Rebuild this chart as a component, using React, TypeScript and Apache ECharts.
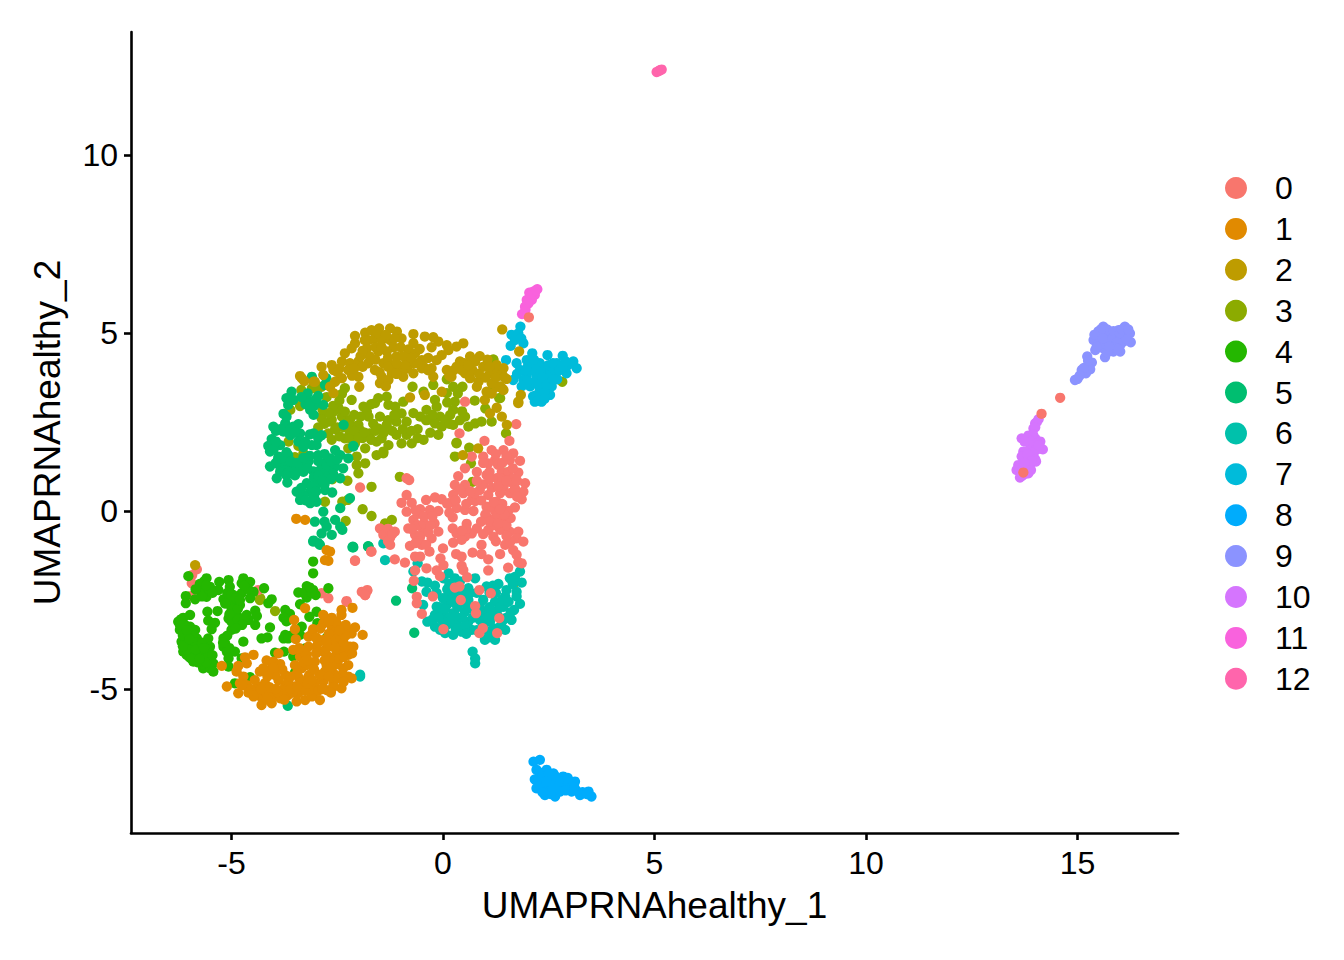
import React, { useEffect, useRef } from "react";
import * as echarts from "echarts";

const clusterNames = ["0","1","2","3","4","5","6","7","8","9","10","11","12"];
const clusterColors = ["#F8766D","#E18A00","#BE9C00","#8CAB00","#24B700","#00BE70","#00C1AB","#00BBDA","#00ACFC","#8B93FF","#D575FE","#F962DD","#FF65AC"];
const xTicks = [-5,0,5,10,15];
const yTicks = [-5,0,5,10];

const c0 = [[-5.82,-1.64],[-5.93,-1.8],[-5.94,-2.03],[-5.96,-2.39],[-6.08,-3.81],[-4.37,-2.22],[-2.87,-2.31],[-2.71,-2.45],[-2.28,-2.53],[-1.92,-2.27],[-1.79,-2.22],[-1.84,-2.36],[-2.08,-1.4],[-1.7,-1.14],
[14.59,3.18],[14.15,2.73],[13.72,1.08],[2.03,5.44],[0.52,3.07],[1.73,2.44],
[0.39,2.18],[0.98,1.97],[1.57,1.97],[1.15,1.71],[1.43,1.71],[1.66,1.62],[0.68,1.53],[0.95,1.53],[1.23,1.43],[1.07,1.34],[1.58,1.43],[1.82,1.41],[0.52,1.2],[0.8,1.1],[1.39,1.1],[1.78,1.08],[0.36,0.98],[1.03,1.01],[1.27,0.92],[1.58,0.82],[1.94,0.78],[0.28,0.73],[0.52,0.73],[1.7,0.64],[1.43,0.68],[1.9,0.54],[0.87,0.59],[0.24,0.45],[0.48,0.5],[1.07,0.45],[1.35,0.5],[1.58,0.5],[0.68,0.31],[0.76,0.28],[1.86,0.33],[-0.86,0.92],[-0.8,0.87],[-1.96,0.66],[-0.86,0.45],[-0.98,0.23],[-0.74,0.23],[-0.4,0.31],[-0.19,0.38],[-0.03,0.33],[0.13,0.22],[0.32,0.08],[-0.86,-0.02],[-0.54,0.05],[-0.31,0.03],[-0.11,0],[-0.7,-0.25],[-0.6,-0.08],[0.23,-0.18],[0.72,0],[0.52,0.03],[1.03,0.12],[1.27,0.26],[1.03,-0.16],[1.23,0],[1.54,0],[1.46,-0.25],[1.23,-0.2],[-0.2,-0.35],[0.56,-0.36],[-1.49,-0.49],[-1.14,-0.58],[-1.41,-0.67],[-0.82,-0.49],[-0.47,-0.53],[-0.11,-0.58],[-0.66,-0.67],[-0.54,-0.72],[-0.27,-0.77],[0.23,-0.49],[0.32,-0.63],[0.8,-0.49],[0.68,-0.63],[1.07,-0.53],[1.35,-0.53],[1.58,-0.58],[1.78,-0.58],[0.52,-0.72],[0.24,-0.89],[0.44,-0.81],[1.19,-0.72],[1.47,-0.95],[1.74,-0.77],[1.9,-0.86],[-1.25,-0.95],[-0.78,-0.98],[-0.5,-0.95],[-0.32,-1.14],[0,-1.05],[0.91,-0.95],[0.7,-1.17],[0.91,-1.21],[0.31,-1.21],[0.44,-1.28],[1.35,-1.21],[1.66,-1.1],[1.74,-1.23],[-1.69,-1.14],[-2.08,-1.39],[-1.14,-1.36],[-0.9,-1.45],[-0.66,-1.28],[-0.54,-1.28],[-0.06,-1.33],[1.07,-1.36],[-0.39,-1.61],[-0.15,-1.67],[0.01,-1.52],[0.44,-1.54],[-0.66,-1.67],[0.48,-1.66],[1.07,-1.67],[1.54,-1.59],[1.78,-1.44],[1.86,-1.47],[0.57,-1.86],[-0.07,-1.83],[-0.69,-1.96],[0.28,-2.15],[0.39,-2.12],[0.86,-2.22],[1.13,-2.31],[-0.24,-2.4],[-0.62,-2.41],[-0.62,-2.59],[0.42,-2.5],[0.76,-2.67],[0.78,-2.87],[-0.5,-2.89],[1.33,-3.01],[0.94,-3.29],[0.01,-3.32],[0.86,-3.43],[1.28,-3.43],[-1.88,-2.27],[-1.79,-2.24],[-1.84,-2.36],[-2.28,-2.55],
[0.1,0.2],[0.9,0.3],[1.1,0.1],[1.3,-0.1],[1.4,0.2],[1.5,-0.4],[1.2,-0.4],[1,-0.1],[1.6,-0.2],[1.7,0.6],[1.4,0.9],[1.55,1.1],[1.65,0.9],[1.75,0.4],[1.3,1.3],[1.1,1.1],[0.95,1.35],[-0.6,-0.4],[-0.45,-0.35],[-0.55,-0.85],[-0.35,-0.6],[-1.25,-0.75],[-1.3,-0.5],
[0.3,0.3],[0.55,0.2],[0.75,0.5],[0.95,0.75],[1.15,0.65],[1.3,0.7],[1.5,0.85],[1.75,0.85],[1.65,1.2],[1.4,1.35],[1.25,1.6],[1.5,1.55],[1.1,0.9],[0.8,0.85],[0.65,0.55],[0.4,0.6],[1.2,0.25],[1.1,-0.3],[0.9,-0.3],[0.55,-0.5],[0.45,-0.55],[0.95,-0.65],[1.25,-0.85],[1.6,-0.85],[1.5,-0.7],[1.3,-0.35],[1.45,-0.1],[1.7,0.1],[1.35,0.05],[-0.45,-0.15],[-0.65,0.02],[-0.75,-0.5],[-0.3,-0.4],[-0.25,-0.15],[-0.4,-0.95],[-0.65,-0.9],[-1.3,-0.85],[-1.2,-0.65],[0.15,-0.05]];

const c1 = [[-2.75,-1.1],[-2.67,-1.14],[-2.79,-1.38],[-2.71,-1.4],[-3.47,-0.22],[-3.26,-0.25],[-3.26,-2.73],[-2.4,-2.78],[-2.14,-2.72],[-2.4,-2.92],[-2.83,-2.92],[-2.63,-3],[-2.51,-3.16],[-2.83,-3.16],[-3.5,-3.32],[-3.48,-3.6],[-3.52,-3.06],[-3.07,-3.32],[-3.18,-3.53],[-2.99,-3.58],[-2.83,-3.62],[-2.63,-3.25],[-2.51,-3.34],[-2.4,-3.53],[-2.24,-3.34],[-2.08,-3.27],[-2.16,-3.44],[-1.9,-3.48],[-2.59,-3.53],[-2.43,-3.72],[-2.2,-3.81],[-2.12,-3.81],[-2.32,-3.9],[-2.24,-4.04],[-2.51,-4],[-2.71,-4.09],[-2.83,-3.95],[-2.99,-3.81],[-3.18,-3.81],[-3.38,-4.09],[-3.54,-3.9],[-3.22,-4.04],[-3.89,-4],[-4.48,-4.04],[-4.68,-4.11],[-4.64,-4.28],[-4.84,-4.35],[-5.23,-4.35],[-4.88,-4.51],[-4.72,-4.65],[-4.8,-4.84],[-5.11,-4.93],[-4.84,-5.12],[-4.64,-4.89],[-4.37,-4.93],[-4.21,-4.84],[-4.48,-5.07],[-4.33,-5.2],[-4.17,-5.12],[-4.01,-5.2],[-4.29,-5.45],[-4.05,-5.4],[-3.85,-5.26],[-3.66,-5.17],[-3.46,-5.35],[-3.26,-5.31],[-2.91,-5.31],[-3.03,-5.07],[-3.3,-4.84],[-3.5,-4.93],[-3.73,-4.89],[-3.89,-4.75],[-3.97,-4.61],[-4.09,-4.46],[-4.33,-4.51],[-4.17,-4.2],[-4.01,-4.23],[-4.25,-4.42],[-3.5,-4.33],[-3.34,-4.42],[-3.22,-4.33],[-3.03,-4.23],[-2.75,-4.33],[-2.59,-4.2],[-2.36,-4.42],[-2.24,-4.33],[-2.24,-4.65],[-2.16,-4.7],[-2.4,-4.98],[-2.59,-4.84],[-2.75,-5.03],[-2.83,-4.79],[-3.03,-4.84],[-3.18,-4.65],[-2.91,-4.61],[-2.59,-4.56],[-2.4,-4.61],[-3.73,-4.61],[-3.66,-4.79],[-3.81,-5.03],[-4.48,-5.21],[-3.42,-5.12],[-3.1,-5.21],[-2.79,-4.51],
[-2.6,-3.75],[-2.7,-3.45],[-2.75,-3.85],[-2.45,-3.55],[-2.35,-3.7],[-3,-4],[-3.15,-4.6],[-3.1,-5],[-3.9,-5.1],[-4.1,-4.95],[-3.55,-5.1],[-4.3,-5],[-2.5,-4.3],[-2.9,-4.6],[-2.6,-4.95],[-3.3,-3.95],[-3.4,-4.7],[-2.9,-3.3],[-3.1,-3.45],
[-2.95,-3.7],[-2.65,-3.65],[-2.3,-3.5],[-2.55,-3.85],[-2.45,-4.15],[-2.65,-4.4],[-2.8,-4.2],[-3.05,-4.45],[-3.3,-4.25],[-3.45,-4.55],[-3.6,-4.65],[-3.8,-4.45],[-3.85,-4.3],[-4.15,-4.65],[-4.45,-4.75],[-4.55,-5],[-4.15,-5.3],[-3.95,-5],[-3.75,-5.3],[-3.6,-5],[-3.25,-5.05],[-3.2,-4.85],[-2.95,-5.05],[-2.85,-5],[-2.5,-4.7],[-2.35,-4.8],[-2.7,-4.65],[-3,-3.55],[-2.55,-3.1],[-2.7,-3.1],[-2.3,-3.2],[-2.35,-4.1],[-2.15,-4],[-3.4,-3.85],[-3.2,-4.2],[-4,-4.4],[-4.75,-4.9],[-4.6,-5.1],[-3.45,-4.95],[-3.1,-4.75],[-2.65,-5.1],[-2.45,-3.35],[-2.75,-3.7]];

const c2 = [[-3.34,3.73],[-3.06,3.63],[-2.87,4.05],[-2.63,4.1],[-2.59,3.96],[-2.32,4.43],[-2.39,4.2],[-2.2,4.15],[-2,4.2],[-2.24,3.96],[-2.39,3.73],[-2.55,3.63],[-2.08,4.71],[-2.16,4.57],[-2.08,4.92],[-1.84,5.01],[-1.69,5.08],[-1.51,5.13],[-1.25,5.13],[-1.09,5.04],[-0.98,4.85],[-0.7,4.97],[-0.43,4.9],[-0.23,4.88],[-0.7,4.71],[-0.82,4.54],[-0.11,4.76],[-0.27,4.6],[0.09,4.66],[0.48,4.71],[0.32,4.62],[0.13,4.52],[-0.03,4.38],[-0.15,4.24],[-1.76,4.8],[-1.61,4.85],[-1.45,4.8],[-1.25,4.8],[-1.8,4.57],[-1.53,4.48],[-1.17,4.6],[-1.33,4.48],[-1.73,4.34],[-1.77,4.15],[-1.61,3.96],[-1.41,4.15],[-1.1,4.34],[-0.86,4.29],[-0.66,4.43],[-0.5,4.24],[-0.46,4.05],[-0.7,4.15],[-1.02,4.01],[-1.17,4.1],[-1.21,3.87],[-1.45,3.77],[-1.49,3.59],[-1.29,3.68],[-2,3.77],[-1.98,3.49],[-0.94,3.77],[-0.7,3.87],[-0.5,4.01],[-0.27,4.01],[-0.23,3.77],[0.09,3.96],[0.2,3.77],[0.4,4.2],[0.64,4.34],[0.87,4.35],[0.52,3.87],[0.64,3.73],[0.76,4.2],[0.95,4.05],[1.11,3.87],[1.27,4.1],[1.39,3.87],[1.4,5.1],[1.27,3.49],[1.39,3.45],[1.03,3.35],[0.99,3.12],[1.11,2.74],[1.39,2.65],[1.51,2.42],[-0.03,3.35],[-0.78,3.19],[-0.43,3.26],[0.84,3.63],[-2.67,3.49],[-2.59,3.31],[0.32,4.05],[0.8,3.49],[1.15,3.59],[1.78,3.03],
[-3.38,3.79],[-3.28,3.65],[-3.03,3.63],[-2.83,3.82],[1.8,4.48],[1.5,3.71],[1.84,3.26],[1.78,3.07],[1.23,4.01],[1.43,4.01],[1.35,3.5],[1.43,3.4],[1.27,2.9],[0.47,1.57],[0.83,1.76],[-5.86,-1.52],
[-1.95,4.35],[-1.6,4.6],[-1.3,4.3],[-1,4.6],[-0.85,4],[-0.35,4.3],[0.25,3.95],[0.7,3.95],[1,3.75],[1.05,4.25],[1.3,3.8],[-1.9,4.05],
[-1.45,4.6],[-1.15,4.85],[-0.95,4.35],[-0.6,4.15],[-0.35,3.95],[-1.6,4.25],[-1.3,4.05],[-1.1,3.85],[-1.5,3.9],[-1.35,3.5],[-2.15,3.8],[-2.1,4],[-2.45,4],[-1.55,5],[-1.35,4.95],[-1.85,4.8],[-0.9,4.1],[-0.75,4.3],[-0.55,4.55],[0.15,3.8],[0.5,4.15],[0.45,3.95],[0.6,4.1],[0.85,3.85],[1.1,4.05],[1.25,3.75],[1.45,3.75],[1.15,3.3],[-1.1,4.15],[-1.9,4.5],[-2.5,3.9]];

const c3 = [[-3.03,3.45],[-2.87,3.49],[-2.32,3.45],[-2.16,3.12],[-2.39,3.29],[-1.53,3.17],[-1.33,3.21],[-1.61,3.03],[-1.88,2.93],[-2.47,2.89],[-2.59,2.79],[-2.87,2.65],[-2.67,2.51],[-2.39,2.65],[-2.2,2.56],[-2,2.42],[-1.8,2.79],[-1.76,2.65],[-1.49,2.65],[-1.29,2.98],[-1.13,2.93],[-0.94,3.07],[-0.98,2.74],[-1.1,2.51],[-0.86,2.51],[-1.33,2.42],[-1.53,2.32],[-1.73,2.18],[-1.96,2.27],[-2.2,2.18],[-2.32,2.04],[-2.08,1.9],[-1.84,1.76],[-1.57,1.95],[-1.45,2.04],[-1.29,1.85],[-1.41,1.62],[-1.1,2.14],[-0.86,2.14],[-0.98,1.9],[-0.74,1.9],[-0.46,2],[-0.72,3.49],[-0.46,3.35],[-0.23,3.54],[0.09,3.7],[0.24,3.49],[0.46,3.49],[-0.19,3.12],[-0.39,2.84],[-0.54,2.65],[-0.35,2.56],[-0.07,2.65],[-0.15,2.93],[0.09,3.31],[0.28,3.07],[0.24,2.84],[0.17,2.7],[0.52,2.65],[0.76,2.46],[0.91,2.51],[1.15,2.51],[1,2.88],[0.6,2.37],[-0.19,2.46],[-0.03,2.37],[0.24,2.42],[-0.11,2.14],[0.32,1.92],[0.62,1.78],[1.15,3.38],[1.33,3.17],[1.19,4.26],[1.49,2.18],[0.28,1.53],[-2.71,2.18],[-2.63,2],
[-3.61,2.84],[-3.38,2.95],[-3.35,3.4],[-3.1,3.45],[-2.95,3.49],[-2.75,3.2],[-2.47,2.88],[-2.63,2.56],[-2.87,2.6],[-2.32,2.79],[-3.65,1.95],[-3.42,1.83],[-3.3,1.62],[-3.62,1.43],[-3.5,1.51],[-2.62,0.89],[-2.26,0.85],[-1.69,0.68],[-2.79,0.26],[-2.38,0.26],[-2.25,0.31],[-2.3,-0.28],[-1.9,0.05],[-1.69,-0.14],[-2.04,1.29],[-2,1.06],[-1.84,1.34],[-1.57,1.57],[-1.41,1.67],[-2.04,1.53],[-2.24,1.76],[-2.2,2.04],
[-1.02,0.96],[-1.37,-0.35],[-1.21,-0.25],[0.32,1.9],[0.66,1.34],[0.7,0.82],[1.7,-2.01],[1.49,1.08],[2.82,3.63],[1.35,3.17],[1.15,3.4],[1.19,4.24],[-4.33,-2.5],[-4.32,-2.45],[-3.97,-2.81],
[-2.5,2.35],[-2.1,2.7],[-1.65,2.45],[-1.2,2.25],[-0.6,2.3],[-0.3,2.2],[0.45,2.8],[0.75,3.1],[-2.45,2.1],[-1.9,2.05],
[-2.8,2.45],[-2.55,2.3],[-2.35,2.35],[-2.2,2.4],[-2.1,2.25],[-2,2.05],[-1.85,2.2],[-1.7,2],[-1.6,2.25],[-1.4,2.2],[-1.3,2.55],[-1.15,2.7],[-0.95,2.3],[-0.75,2.25],[-0.6,2.05],[-0.7,2.75],[-0.4,2.55],[-0.25,2.7],[0.05,2.55],[0.15,2.45],[0.4,2.55],[0.35,3.3],[0.1,3.05],[-2.6,2.95],[-2.45,3.1],[-2.7,2.75],[-2.85,2.85],[-2.95,2.35],[-1.7,3],[-1.95,2.65]];

const c4 = [[-6.02,-1.83],[-5.59,-1.89],[-5.67,-2.08],[-5.78,-2.22],[-5.51,-2.13],[-5.59,-2.41],[-5.86,-2.48],[-6.08,-2.39],[-6.08,-2.59],[-5.29,-1.99],[-5.07,-1.94],[-5.04,-2.13],[-5.31,-2.22],[-4.72,-1.89],[-4.76,-2.03],[-4.56,-1.99],[-4.23,-2.17],[-4.48,-2.27],[-4.56,-2.45],[-4.76,-2.31],[-4.96,-2.36],[-5.19,-2.48],[-4.96,-2.55],[-4.8,-2.64],[-5,-2.73],[-5.07,-3.02],[-4.88,-2.92],[-5,-3.11],[-4.64,-2.92],[-4.44,-2.8],[-4.6,-3.06],[-4.44,-3.2],[-5,-3.34],[-4.05,-2.48],[-4.13,-2.59],[-5.33,-2.81],[-5.57,-2.83],[-5.55,-3.08],[-5.39,-3.14],[-5.47,-3.32],[-5.98,-2.92],[-6.14,-3],[-6.26,-3.11],[-6.22,-3.34],[-5.98,-3.25],[-5.86,-3.34],[-6.02,-3.48],[-5.82,-3.58],[-5.55,-3.58],[-6.18,-3.67],[-5.9,-3.76],[-6.14,-3.95],[-5.51,-3.81],[-5.55,-3.9],[-5.82,-4],[-6.06,-4.04],[-5.9,-4.23],[-5.63,-4.11],[-5.67,-4.42],[-5.43,-4.28],[-5.51,-4.42],[-5.19,-3.58],[-5.15,-3.72],[-5.19,-3.81],[-4.92,-3.95],[-5.11,-3.95],[-5.07,-4.14],[-5.07,-4.37],[-4.76,-4.14],[-4.72,-3.67],[-4.09,-3.27],[-4.29,-3.58],[-4.15,-3.55],[-3.73,-2.78],[-3.62,-2.89],[-3.77,-3],[-3.66,-3.06],[-3.73,-3.48],[-3.77,-3.58],[-3.66,-3.58],[-3.54,-4.09],[-3.97,-3.98],[-3.76,-3.95],[-3.42,-2.29],[-3.22,-2.11],[-3.07,-2.22],[-3.01,-2.36],[-3.22,-2.43],[-3.38,-2.62],[-3.07,-1.42],[-3.07,-1.75],[-2.71,-2.17],[-3.26,-3.86],[-3.34,-3.25],[-3.38,-3.48],[-3.16,-2.97],[-2.99,-2.83],[-2.97,-3.15],[-2.75,-3.56],[-4.56,-4.67],[-4.92,-4.84],[-3.5,-4.54],[-5.43,-4.51],
[-6.22,-3.2],[-6.1,-3.2],[-6.05,-3.7],[-5.95,-3.6],[-5.75,-3.9],[-5.7,-4.3],[-5.8,-4.25],[-6,-4.1],[-5.65,-1.98],[-5.75,-2.05],[-5.65,-2.3],[-5.1,-2.3],[-5.05,-2.5],[-5,-2.35],[-4.9,-2.45],[-4.85,-2.75],[-4.95,-3.15],[-4.85,-3.05],[-4.7,-3],[-6.15,-3.5],[-6.2,-3.05],[-5.9,-3.45],[-5.85,-3.7],[-6,-3.9],
[-5.6,-2.1],[-5.45,-2.3],[-5.7,-2.4],[-5.85,-2.2],[-4.6,-2.2],[-4.8,-2.5],[-4.7,-2.1],[-4.4,-2.95],[-4.75,-3.2],[-4.9,-3.3],[-6.05,-3.35],[-6.15,-3.8],[-6,-3.6],[-5.85,-3.9],[-5.7,-3.7],[-5.65,-3.85],[-5.95,-4.15],[-5.6,-4.25],[-5.45,-4.05],[-5.75,-4.15],[-5.1,-3.5],[-5.05,-3.85],[-5.2,-3.7],[-3.7,-3.1],[-3.6,-3.5],[-3.3,-2.3],[-3.1,-2.3],[-3.15,-2.15],[-5.15,-2.6],[-5.05,-2.9]];

const c5 = [[-3.1,3.77],[-2.76,3.73],[-2.79,3.54],[-2.95,3.23],[-3.58,3.35],[-3.7,3.17],[-3.54,3.12],[-3.22,3.17],[-3.66,2.98],[-3.77,2.73],[-3.03,3.03],[-3.14,2.84],[-2.83,2.98],[-3.06,2.7],[-4.01,2.37],[-3.73,2.46],[-3.77,2.23],[-3.54,2.37],[-3.42,2.44],[-3.61,2.13],[-3.38,2.18],[-2.35,2.42],[-3.06,2.18],[-2.87,2.13],[-4.05,2.02],[-3.85,1.85],[-4.13,1.83],[-4.09,1.67],[-3.42,1.95],[-3.26,1.95],[-2.99,1.85],[-3.89,1.53],[-3.66,1.57],[-3.73,1.34],[-4.09,1.25],[-3.85,1.25],[-3.93,0.92],[-3.68,0.8],[-3.46,1.11],[-3.34,1.25],[-3.18,1.39],[-2.95,1.57],[-2.55,1.71],[-2.12,1.81],[-2.67,1.48],[-2.43,1.57],[-2.24,1.48],[-2.83,1.34],[-2.55,1.25],[-2.36,1.2],[-3.06,1.11],[-2.83,0.97],[-2.43,0.92],[-3.22,0.78],[-2.95,0.78],[-3.46,0.54],[-3.14,0.54],[-2.79,0.59],[-2.62,0.52],[-3.38,0.31],[-3.14,0.22],[-2.99,0.26],[-2.43,0.08],[-2.2,0.36],[-2.83,-0.02],[-3.03,-0.3],[-2.8,-0.3],[-2.55,-0.25],[-2.75,-0.44],[-2.43,-0.44],[-2.38,-0.53],[-2.87,-0.63],[-2.63,-0.67],[-3.06,-0.83],[-2.95,-0.9],[-2.13,-1],[-1.76,-1],
[-3.9,1.45],[-3.8,1.5],[-3.75,1.15],[-3.55,1.2],[-3.6,1.4],[-3.3,1.1],[-3.45,1.35],[-2.7,1.15],[-2.6,1.05],[-2.9,1.15],[-3.05,0.95],[-3.1,0.7],[-3.3,0.45],[-3.05,0.4],[-3.25,3],[-3.05,2.95],[-3.15,3.05],[-2.8,0.75],[-3.6,2.3],[-3.65,2.2],[-2.8,1.6],[-3.7,1.65],[-3.2,1.2],
[-3.67,-5.47],[-2.12,-1.02],[-1.77,-1],[-3.07,-0.86],[-2.91,-0.95],[-2.14,-1.02],[-1.77,-0.99],[-1.11,-2.52],[-0.68,-3.42],[-0.73,-2.17],[-2.12,1.83],
[-3.95,1.35],[-3.85,1.1],[-3.65,1.1],[-3.5,1],[-3.7,1],[-3.3,1.5],[-3.15,1.55],[-2.95,1.4],[-2.75,1.3],[-2.65,1.4],[-2.5,1.45],[-2.95,1],[-2.85,0.85],[-2.65,0.9],[-3.35,0.65],[-3.25,0.3],[-3,0.55],[-3.7,2.65],[-3.5,2.2],[-3.85,2.3],[-3.95,2.25],[-3.15,2.95],[-3.2,3.3],[-3.35,3.2],[-3.6,3.2],[-3,3.15],[-3.15,2.15],[-2.95,2.05],[-3.1,1.85],[-3.3,1.8],[-4,1.75],[-3.95,1.95]];

const c6 = [[-1.96,-4.6],[-1.96,-4.65],[-0.6,-1.47],[-0.7,-1.7],[-1.37,-1.38],[-1.41,-0.91],[0.13,-1.75],[0.01,-1.89],[0.28,-1.89],[0.76,-1.89],[-0.5,-1.98],[-0.37,-2.01],[-0.19,-2.1],[0.4,-1.98],[-0.39,-2.27],[1.31,-2.05],[1.58,-1.89],[1.82,-1.7],[1.86,-2.01],[1.74,-2.27],[1.74,-2.4],[1.82,-2.61],[1.68,-2.78],[1.5,-2.22],[1.47,-2.4],[0.13,-2.36],[0.28,-2.31],[0.6,-2.17],[1.03,-2.12],[1.18,-2.1],[-0.47,-2.64],[-0.15,-2.69],[0.09,-2.64],[0.28,-2.59],[0.6,-2.5],[0.95,-2.5],[1.23,-2.55],[1.43,-2.69],[-0.37,-3.11],[-0.19,-2.92],[0.01,-2.92],[0.24,-2.87],[0.52,-2.83],[1.03,-2.83],[1.23,-2.83],[1.62,-3.06],[-0.19,-3.25],[0.09,-3.2],[0.32,-3.15],[0.6,-3.11],[0.87,-3.06],[1.11,-3.11],[1.47,-3.34],[0.24,-3.48],[0.44,-3.39],[0.68,-3.34],[1.07,-3.39],[0.99,-3.62],[1.23,-3.62],[0.05,-3.43],[-0.07,-3.34],[0.7,-3.95],[0.76,-4.14],[0.76,-4.28],[1.35,-3.25],[0.87,-2.69],
[0.2,-2.5],[0.35,-2.7],[0.45,-3],[0.15,-3],[0.95,-2.95],[1.1,-2.7],[1.3,-2.95],[1.35,-2.7],[0.7,-2.75],[0.5,-2.4],[0.1,-2.2],[0.7,-3],
[-0.1,-2.7],[0,-2.45],[0.3,-2.1],[0.4,-2.25],[0.55,-2.6],[0.8,-2.3],[1.1,-2.3],[1.25,-2.3],[1.4,-2.5],[1.55,-2.55],[1.5,-3],[1.4,-3.1],[1.2,-3.3],[0.95,-3.2],[0.85,-2.95],[0.5,-3.25],[0.3,-3.3],[0.15,-3.15],[0,-3.1],[-0.25,-3.05],[-0.1,-3],[0.05,-2.75],[0.3,-2.95],[1.05,-3],[1.15,-2.95],[1.6,-2.85],[0.65,-2.3],[0.15,-2.05],[-0.15,-2.3],[1.65,-2.05],[1.7,-1.85],[1.1,-3.55],[0.8,-3.35],[0.55,-3.45]];

const c7 = [[1.83,5.18],[1.62,4.95],[1.78,4.99],[1.9,4.71],[1.6,4.64],[1.49,4.24],[2.11,4.43],[1.98,4.24],[2.47,4.38],[2.83,4.36],[3.08,4.2],[3.16,4.01],[2.92,3.87],[2.69,4.15],[2.29,4.15],[1.74,4.15],[1.82,3.96],[2.09,3.96],[2.41,3.92],[2.61,3.92],[1.66,3.68],[1.9,3.68],[2.06,3.5],[2.37,3.64],[2.57,3.5],[2.13,3.22],[2.33,3.07],[2.53,3.26],[2.17,3.07],[2.21,3.77],[2.8,4.06],[2.96,4.1],[1.86,3.5],[2.29,3.4],[1.98,3.82],[2,4.05],[2.2,4.05],[2.4,4.05],[2.5,3.75],[2.15,3.6],[2.4,3.35],[2.7,3.7],
[2.05,4.15],[2.3,3.9],[2.5,4.1],[2.6,4.15],[2.75,3.95],[2.85,4.05],[2.35,3.75],[2.25,3.55],[2.45,3.55],[2.6,3.7],[1.75,3.85],[1.95,3.95],[2,3.65],[2.2,3.25],[2.25,3.1],[2.4,3.15],[1.85,4.85],[1.7,4.8],[2.15,4.25],[2.9,4.2]];

const c8 = [[2.29,-6.99],[2.14,-7.04],[2.21,-7.27],[2.45,-7.27],[2.17,-7.54],[2.21,-7.79],[2.41,-7.98],[2.65,-8.02],[2.61,-7.37],[2.84,-7.46],[3.12,-7.6],[2.37,-7.65],[2.61,-7.65],[2.88,-7.74],[3.04,-7.88],[3.24,-7.98],[3.44,-7.88],[3.51,-8.02],[2.49,-7.84],[2.77,-7.88],[2.29,-7.46],[2.53,-7.51],[2.69,-7.79],[3,-7.7],
[2.3,-7.35],[2.25,-7.55],[2.35,-7.45],[2.45,-7.5],[2.4,-7.75],[2.3,-7.7],[2.55,-7.7],[2.7,-7.55],[2.75,-7.7],[2.55,-7.95],[2.8,-7.6],[2.95,-7.6],[2.65,-7.45],[2.9,-7.85],[3.15,-7.85],[3.3,-7.9],[3.1,-7.75],[2.5,-7.4],[2.35,-7.9],[2.95,-7.5],[2.45,-7.6],[3.4,-7.95]];

const c9 = [[15,3.71],[14.94,3.68],[15.1,3.96],[15.2,3.87],[15.26,4.1],[15.34,4.17],[15.23,4.34],[15.42,4.52],[15.65,4.32],[15.38,4.8],[15.49,5.04],[15.61,5.18],[15.77,5.04],[16.12,5.18],[16.24,4.99],[16.26,4.74],[16.01,4.48],[15.85,4.48],[15.61,4.57],[15.53,4.85],[15.77,4.76],[15.97,4.94],[16.09,4.76],[15.89,4.71],[15.65,4.94],[15.97,5.08],[15.49,4.71],[16.01,4.66],
[15.5,4.9],[15.6,4.7],[15.7,4.8],[15.85,4.9],[15.95,4.75],[15.7,5.1],[15.85,5.05],[16.1,4.95],[16.15,4.85],[16,5],[15.45,4.6],[15.7,4.45],[15.9,4.6],[16.05,5.1],[15.55,5.1],[15.4,4.95],[15.3,3.98],[15.15,4.02],[15.25,4.22],[15.95,4.55],[15.75,4.62],[16.2,5.1],[15.6,4.85],[15.05,3.8]];

const c10 = [[14.08,2.58],[14,2.46],[13.96,2.32],[13.68,2.04],[13.84,2.12],[14,2.04],[14.12,1.95],[14.18,1.73],[13.72,1.67],[13.88,1.76],[13.96,1.57],[14.02,1.39],[13.88,1.29],[13.6,1.29],[13.56,1.15],[13.76,1.2],[13.64,0.94],[13.84,1.06],[13.68,1.53],
[14.04,2.5],[14,2.35],[13.95,2.15],[13.8,2.05],[13.9,1.95],[14.05,1.9],[13.95,1.85],[14.02,1.72],[14.1,1.75],[13.95,1.65],[13.82,1.6],[14,1.45],[13.92,1.4],[13.85,1.15],[13.78,1.05],[13.7,1],[13.62,1.2],[13.75,1.35],[13.9,1.15],[13.75,1.95],[14.08,1.85],[13.68,0.98]];

const c11 = [[2.23,6.23],[2.04,6.13],[2.17,6.07],[1.98,5.93],[2.1,5.93],[1.94,5.74],[2.02,5.83],[1.87,5.53],[2.13,6.16],[2.07,6.05],[2,5.85],[1.95,5.65],[2.2,6.2]];

const c12 = [[5.05,12.33],[5.1,12.36],[5.13,12.38],[5.17,12.4]];

const clusters = [c0,c1,c2,c3,c4,c5,c6,c7,c8,c9,c10,c11,c12];
const drawOrder = [3,5,8,12,11,6,9,10,0,7,2,4,1];
const FONT = "Liberation Sans";

export default function App() {
  const ref = useRef<HTMLDivElement>(null);
  useEffect(() => {
    const chart = echarts.init(ref.current!, undefined, { renderer: "svg" });
    const axisCommon = {
      axisLine: { show: true, onZero: false, lineStyle: { color: "#000", width: 2.6 } },
      axisTick: { show: true, length: 7, lineStyle: { color: "#000", width: 2.6 } },
      splitLine: { show: false },
      nameLocation: "center" as const,
      nameTextStyle: { color: "#000", fontSize: 37, fontFamily: FONT },
    };
    chart.setOption({
      animation: false,
      backgroundColor: "#fff",
      grid: { left: 131, top: 32, width: 1047, height: 801, containLabel: false },
      xAxis: {
        ...axisCommon, type: "value", min: -7.376, max: 17.376, name: "UMAPRNAhealthy_1", nameGap: 54,
        axisTick: { ...axisCommon.axisTick, customValues: xTicks },
        axisLabel: { customValues: xTicks, color: "#000", fontSize: 32, fontFamily: FONT, margin: 14, formatter: (v: number) => String(v) },
      },
      yAxis: {
        ...axisCommon, type: "value", min: -9.045, max: 13.455, name: "UMAPRNAhealthy_2", nameGap: 65,
        axisTick: { ...axisCommon.axisTick, customValues: yTicks },
        axisLabel: { customValues: yTicks, color: "#000", fontSize: 32, fontFamily: FONT, margin: 13, formatter: (v: number) => String(v) },
      },
      legend: {
        orient: "vertical", left: 1225, top: 172, padding: 0, itemWidth: 22, itemHeight: 22, itemGap: 8.9, icon: "circle",
        data: clusterNames, selectedMode: false,
        textStyle: { color: "#000", fontSize: 32, lineHeight: 22, fontFamily: FONT, padding: [0, 0, 0, 23] },
      },
      series: clusterNames.map((name, i) => ({
        name, type: "scatter", data: clusters[i], symbol: "circle", symbolSize: 10.3,
        z: 2 + drawOrder.indexOf(i),
        itemStyle: { color: clusterColors[i], opacity: 1 },
        emphasis: { disabled: true },
      })),
    });
    return () => chart.dispose();
  }, []);
  return <div ref={ref} style={{ position: "fixed", left: 0, top: 0, width: 1344, height: 960 }} />;
}
